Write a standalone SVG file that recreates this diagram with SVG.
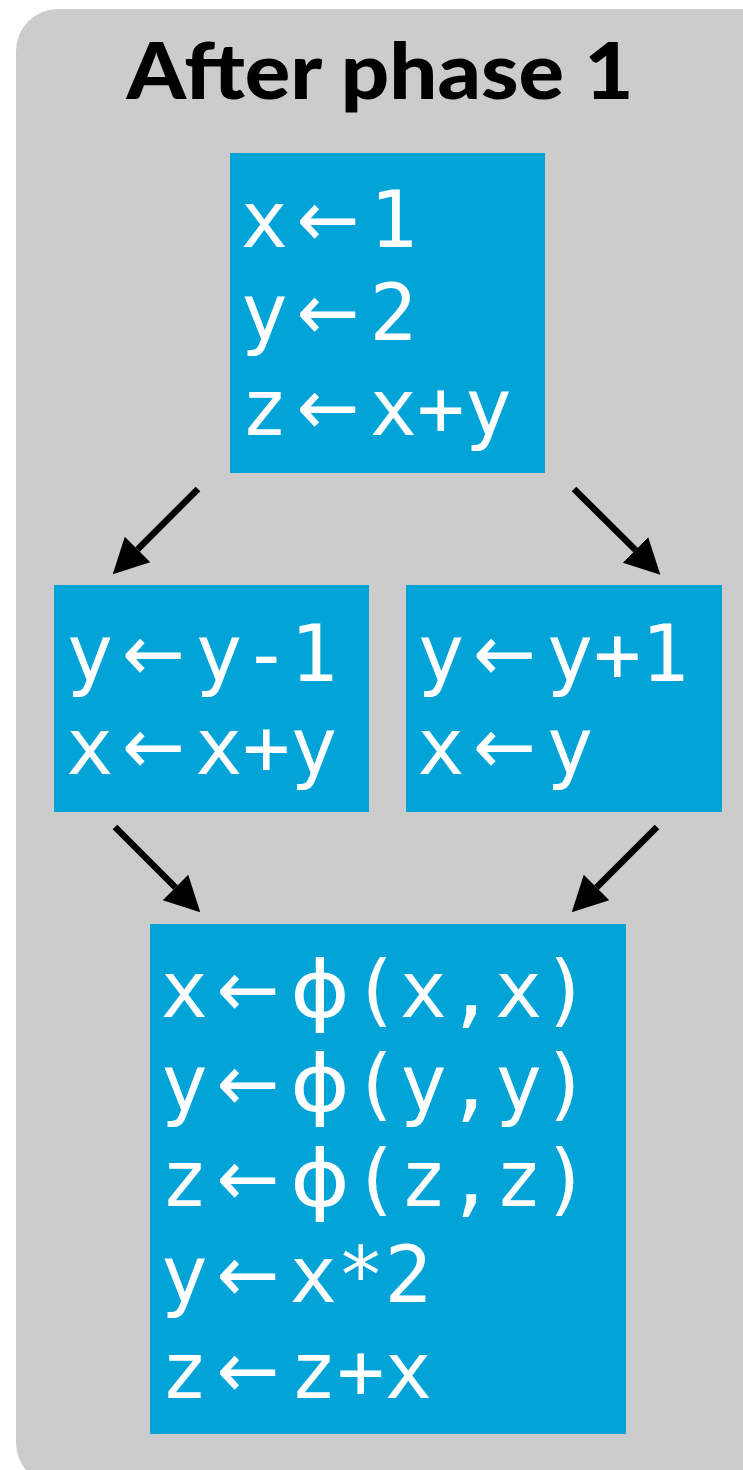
<svg xmlns="http://www.w3.org/2000/svg" width="743" height="1470" viewBox="0 0 743 1470">
<style>
.bg{fill:#cccccc}
.box{fill:#02a4d8}
.title{font-family:"Lato","Liberation Sans",sans-serif;font-weight:900;font-size:78px;fill:#000}
.code{font-family:"DejaVu Sans Mono",monospace;font-size:79px;fill:#fff}
.arr{font-family:"DejaVu Sans",sans-serif;font-size:80px}
.phi{font-family:"DejaVu Sans",sans-serif;font-size:79px}
.conn{stroke:#000;stroke-width:6.5;fill:none;marker-end:url(#ah)}
</style>
<defs>
<marker id="ah" markerUnits="userSpaceOnUse" markerWidth="36" markerHeight="38" viewBox="0 -19 36 38" refX="0" refY="0" orient="auto">
<path d="M0,-18 L35,0 L0,18 Z" fill="#000"/>
</marker>
</defs>
<rect class="bg" x="16" y="9" width="800" height="1476" rx="42"/>
<text class="title" x="380" y="99" text-anchor="middle" textLength="507" lengthAdjust="spacingAndGlyphs">After phase 1</text>
<g id="entry">
<rect class="box" x="230" y="153" width="315" height="320"/>
<text class="code" y="247"><tspan x="240.5">x</tspan><tspan class="arr" x="296.5" textLength="63" lengthAdjust="spacingAndGlyphs">←</tspan><tspan x="369.5">1</tspan></text>
<text class="code" y="340"><tspan x="240.5">y</tspan><tspan class="arr" x="296.5" textLength="63" lengthAdjust="spacingAndGlyphs">←</tspan><tspan x="369.5">2</tspan></text>
<text class="code" y="435"><tspan x="240.5">z</tspan><tspan class="arr" x="296.5" textLength="63" lengthAdjust="spacingAndGlyphs">←</tspan><tspan x="369.5">x+y</tspan></text>
</g>
<g id="left">
<rect class="box" x="54" y="585" width="315" height="227"/>
<text class="code" y="681"><tspan x="66">y</tspan><tspan class="arr" x="122" textLength="63" lengthAdjust="spacingAndGlyphs">←</tspan><tspan x="195">y-1</tspan></text>
<text class="code" y="774"><tspan x="66">x</tspan><tspan class="arr" x="122" textLength="63" lengthAdjust="spacingAndGlyphs">←</tspan><tspan x="195">x+y</tspan></text>
</g>
<g id="right">
<rect class="box" x="406" y="585" width="316" height="227"/>
<text class="code" y="681"><tspan x="417">y</tspan><tspan class="arr" x="473" textLength="63" lengthAdjust="spacingAndGlyphs">←</tspan><tspan x="546">y+1</tspan></text>
<text class="code" y="774"><tspan x="417">x</tspan><tspan class="arr" x="473" textLength="63" lengthAdjust="spacingAndGlyphs">←</tspan><tspan x="546">y</tspan></text>
</g>
<g id="join">
<rect class="box" x="150" y="924" width="476" height="510"/>
<text class="code" y="1017"><tspan x="160.5">x</tspan><tspan class="arr" x="216.5" textLength="63" lengthAdjust="spacingAndGlyphs">←</tspan><tspan class="phi" x="290" textLength="60" lengthAdjust="spacingAndGlyphs">ϕ</tspan><tspan x="352">(x,x)</tspan></text>
<text class="code" y="1111"><tspan x="160.5">y</tspan><tspan class="arr" x="216.5" textLength="63" lengthAdjust="spacingAndGlyphs">←</tspan><tspan class="phi" x="290" textLength="60" lengthAdjust="spacingAndGlyphs">ϕ</tspan><tspan x="352">(y,y)</tspan></text>
<text class="code" y="1206"><tspan x="160.5">z</tspan><tspan class="arr" x="216.5" textLength="63" lengthAdjust="spacingAndGlyphs">←</tspan><tspan class="phi" x="290" textLength="60" lengthAdjust="spacingAndGlyphs">ϕ</tspan><tspan x="352">(z,z)</tspan></text>
<text class="code" y="1302"><tspan x="160.5">y</tspan><tspan class="arr" x="216.5" textLength="63" lengthAdjust="spacingAndGlyphs">←</tspan><tspan x="289.5">x*2</tspan></text>
<text class="code" y="1398"><tspan x="160.5">z</tspan><tspan class="arr" x="216.5" textLength="63" lengthAdjust="spacingAndGlyphs">←</tspan><tspan x="289.5">z+x</tspan></text>
</g>
<g id="connectors">
<path class="conn" d="M198,489 L137.5,549.5"/>
<path class="conn" d="M574,489 L635.5,550"/>
<path class="conn" d="M115,827 L175.5,887.5"/>
<path class="conn" d="M657,827 L596.5,887.5"/>
</g>
</svg>
